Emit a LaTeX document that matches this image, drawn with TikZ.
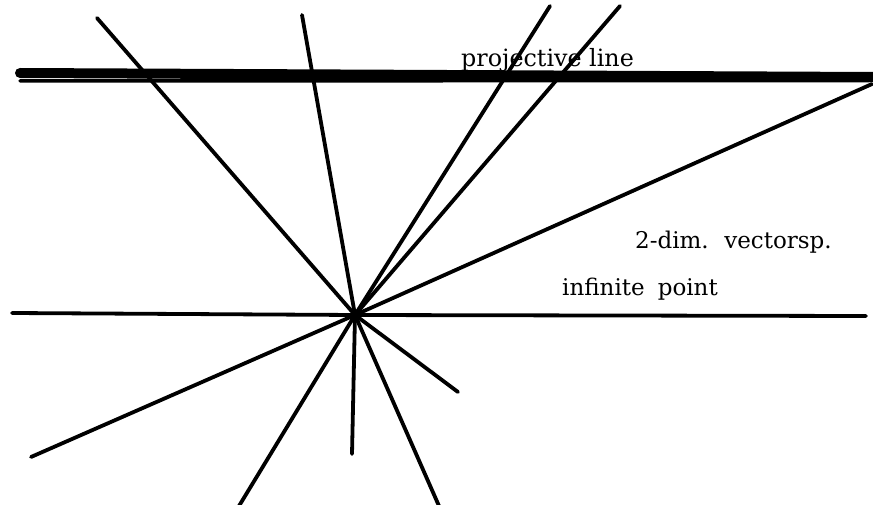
\documentclass[tikz,border=0pt]{standalone}
\usepackage{fontspec}
\newfontfamily\lblfont{DejaVu Serif}
\begin{document}
\begin{tikzpicture}[x=1pt,y=-1pt,
  ray/.style={line width=3.8pt,line cap=round,black},
  lbl/.style={anchor=base west,inner sep=0pt,font=\lblfont\fontsize{23}{26}\selectfont}]
\useasboundingbox (0,0) rectangle (873,505);
\fill[white] (0,0) rectangle (873,505);
% projective line
\draw[line width=10pt,line cap=round] (20,73) -- (873,77);
\draw[line width=3.5pt,line cap=round] (20,81) -- (873,80.5);
% centre
\coordinate (C) at (355,315);
\coordinate (e1) at (97,18);
\coordinate (e2) at (302,15);
\coordinate (e3) at (550,6);
\coordinate (e4) at (620,6);
\coordinate (e5) at (872,84);
\coordinate (e6) at (866,316);
\coordinate (e7) at (12,313);
\coordinate (e8) at (31,457);
\coordinate (e9) at (239,506);
\coordinate (e10) at (352,454);
\coordinate (e11) at (439,506);
\coordinate (e12) at (458,392);
\foreach \e in {e1,e2,e3,e4,e5,e6,e7,e8,e9,e10,e11,e12}
  \draw[ray] (C) -- (\e);
% labels
\node[lbl,font=\lblfont\fontsize{23.8}{26}\selectfont] (pl) at (461,67) {projective line};
\node[lbl] (vs) at (635,248) {2-dim.\hspace{0.25em} vectorsp.};
\node[lbl] (ip) at (562,295) {infinite\hspace{0.25em} point};
\end{tikzpicture}
\end{document}
